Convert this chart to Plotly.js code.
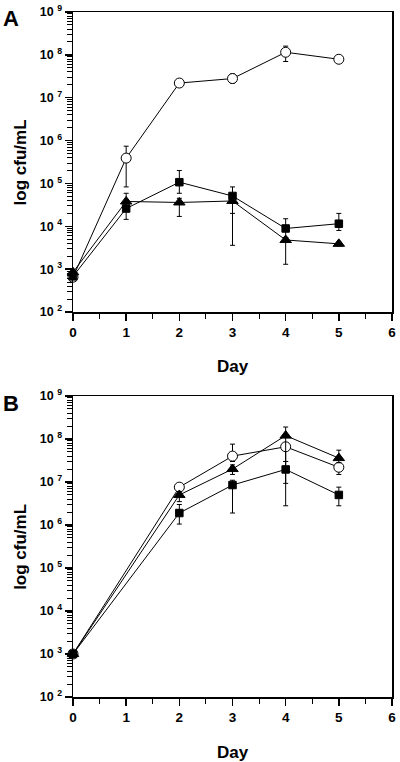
<!DOCTYPE html>
<html><head><meta charset="utf-8">
<script src="https://cdn.plot.ly/plotly-3.0.1.min.js"></script>
<style>html,body{margin:0;padding:0;background:#fff}#chart{width:400px;height:762px}</style>
</head><body><div id="chart"></div>
<script>
// Panel A
const daysA = [0, 1, 2, 3, 4, 5];
const circA = [650, 3.9e5, 2.2e7, 2.8e7, 1.15e8, 7.9e7];
const circAHi = [700, 7.4e5, 2.5e7, 3.6e7, 1.6e8, 9.0e7];
const circALo = [600, 8.3e4, 1.9e7, 2.2e7, 7.0e7, 6.8e7];
const sqA = [680, 2.6e4, 1.07e5, 5.1e4, 8.9e3, 1.15e4];
const sqAHi = [750, 3.5e4, 2.0e5, 8.3e4, 1.5e4, 2.0e4];
const sqALo = [620, 1.45e4, 5.9e4, 2.0e4, 5.5e3, 8.0e3];
const triA = [850, 3.8e4, 3.6e4, 3.9e4, 4.8e3, 3.9e3];
const triAHi = [950, 5.9e4, 4.5e4, 4.5e4, 5.5e3, 4.3e3];
const triALo = [780, 2.5e4, 1.7e4, 3.6e3, 1.3e3, 3.5e3];
// Panel B
const daysB = [0, 2, 3, 4, 5];
const circB = [1000, 7.6e6, 4.0e7, 6.6e7, 2.2e7];
const circBHi = [1200, 9.0e6, 7.6e7, 8.0e7, 2.6e7];
const circBLo = [850, 6.5e6, 3.0e7, 9.3e6, 1.5e7];
const triB = [1000, 5.0e6, 2.0e7, 1.2e8, 3.6e7];
const triBHi = [1200, 6.0e6, 2.5e7, 1.9e8, 5.5e7];
const triBLo = [850, 3.5e6, 1.5e7, 3.0e7, 2.8e7];
const sqB = [1000, 1.9e6, 8.5e6, 1.96e7, 5.0e6];
const sqBHi = [1200, 3.0e6, 1.1e7, 3.0e7, 7.6e6];
const sqBLo = [850, 1.05e6, 1.9e6, 2.8e6, 2.8e6];

const yTickVals = [1e2, 1e3, 1e4, 1e5, 1e6, 1e7, 1e8, 1e9];
const yTickText = ['10 <sup>2</sup>', '10 <sup>3</sup>', '10 <sup>4</sup>', '10 <sup>5</sup>', '10 <sup>6</sup>', '10 <sup>7</sup>', '10 <sup>8</sup>', '10 <sup>9</sup>'];
const xTickVals = [0, 1, 2, 3, 4, 5, 6];
const xTickText = ['0', '1', '2', '3', '4', '5', '6'];
const xMinorVals = [0.5, 1.5, 2.5, 3.5, 4.5, 5.5];

const yMinorVals = [];
for (let e = 2; e < 9; e++) for (let m = 2; m <= 9; m++) yMinorVals.push(m * Math.pow(10, e));

function errs(y, hi, lo) {
  return {type: 'data', symmetric: false,
    array: y.map((v, i) => hi[i] - v), arrayminus: y.map((v, i) => v - lo[i]),
    color: '#000', thickness: 1, width: 2.5};
}
function tr(x, y, hi, lo, sym, fill, size, xa, ya) {
  return {x: x, y: y, xaxis: xa, yaxis: ya, type: 'scatter', mode: 'lines+markers',
    cliponaxis: false, showlegend: false,
    line: {color: '#000', width: 1},
    marker: {symbol: sym, size: size, color: fill, line: {color: '#000', width: 1}},
    error_y: errs(y, hi, lo)};
}
const data = [
  tr(daysA, circA, circAHi, circALo, 'circle', '#fff', 10, 'x', 'y'),
  tr(daysA, sqA, sqAHi, sqALo, 'square', '#000', 7.5, 'x', 'y'),
  tr(daysA, triA, triAHi, triALo, 'triangle-up', '#000', 10, 'x', 'y'),
  tr(daysB, circB, circBHi, circBLo, 'circle', '#fff', 10, 'x2', 'y2'),
  tr(daysB, sqB, sqBHi, sqBLo, 'square', '#000', 7.5, 'x2', 'y2'),
  tr(daysB, triB, triBHi, triBLo, 'triangle-up', '#000', 10, 'x2', 'y2')
];

const fam = 'Liberation Sans, Arial, sans-serif';
function xax(anchor) {
  return {anchor: anchor, range: [0, 6], tickmode: 'array', tickvals: xTickVals, ticktext: xTickText,
    ticks: 'outside', ticklen: 7, tickwidth: 1.5, tickcolor: '#000',
    showline: true, linewidth: 1.5, linecolor: '#000', mirror: true,
    showgrid: false, zeroline: false,
    tickfont: {family: fam, size: 13.5, color: '#000', weight: 'bold'},
    minor: {tickmode: 'array', tickvals: xMinorVals, ticks: 'outside', ticklen: 5, tickwidth: 1, tickcolor: '#000'}};
}
function yax(anchor, domain) {
  return {anchor: anchor, domain: domain, type: 'log', range: [2, 9],
    tickmode: 'array', tickvals: yTickVals, ticktext: yTickText,
    ticks: 'outside', ticklen: 7, tickwidth: 1.5, tickcolor: '#000',
    showline: true, linewidth: 1.5, linecolor: '#000', mirror: true,
    showgrid: false, zeroline: false,
    tickfont: {family: fam, size: 12.5, color: '#000', weight: 'bold'},
    minor: {tickmode: 'array', tickvals: yMinorVals, ticks: 'outside', ticklen: 5, tickwidth: 1, tickcolor: '#000'}};
}
const titleFont = {family: fam, size: 17, color: '#000', weight: 'bold'};
const layout = {
  width: 400, height: 762,
  margin: {l: 73, r: 8, t: 12, b: 65},
  paper_bgcolor: '#fff', plot_bgcolor: '#fff',
  font: {family: fam, color: '#000'},
  xaxis: xax('y'),
  yaxis: yax('x', [0.562, 1]),
  xaxis2: xax('y2'),
  yaxis2: yax('x2', [0, 0.4394]),
  annotations: [
    {text: 'A', xref: 'paper', yref: 'paper', x: -0.225, y: 0.99, xanchor: 'left', yanchor: 'middle', showarrow: false, font: {family: fam, size: 22, color: '#000', weight: 'bold'}},
    {text: 'B', xref: 'paper', yref: 'paper', x: -0.225, y: 0.428, xanchor: 'left', yanchor: 'middle', showarrow: false, font: {family: fam, size: 22, color: '#000', weight: 'bold'}},
    {text: 'log cfu/mL', xref: 'paper', yref: 'y domain', x: -0.165, y: 0.5, xanchor: 'center', yanchor: 'middle', textangle: -90, showarrow: false, font: titleFont},
    {text: 'log cfu/mL', xref: 'paper', yref: 'y2 domain', x: -0.165, y: 0.5, xanchor: 'center', yanchor: 'middle', textangle: -90, showarrow: false, font: titleFont},
    {text: 'Day', xref: 'paper', yref: 'y domain', x: 0.5, y: -0.183, xanchor: 'center', yanchor: 'middle', showarrow: false, font: titleFont},
    {text: 'Day', xref: 'paper', yref: 'y2 domain', x: 0.5, y: -0.183, xanchor: 'center', yanchor: 'middle', showarrow: false, font: titleFont}
  ]
};
Plotly.newPlot('chart', data, layout, {displayModeBar: false, staticPlot: true});
</script></body></html>
